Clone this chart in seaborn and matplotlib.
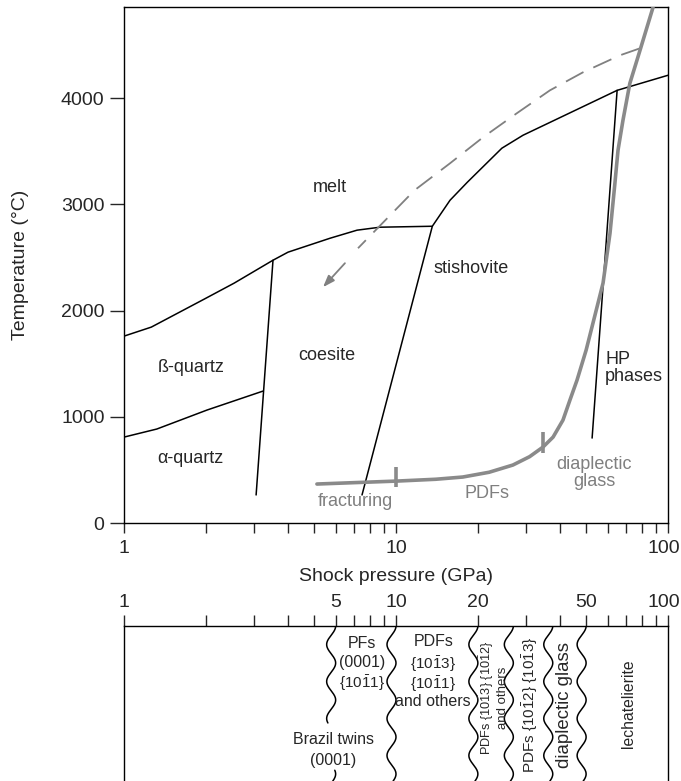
import numpy as np
import matplotlib
matplotlib.use("Agg")
import matplotlib.pyplot as plt
from matplotlib.ticker import FixedLocator, FixedFormatter, LogLocator, NullFormatter
import seaborn as sns

sns.set_style("ticks")
plt.rcParams["font.family"] = ["Liberation Sans", "DejaVu Sans"]
plt.rcParams["mathtext.fontset"] = "custom"
plt.rcParams["mathtext.rm"] = "Liberation Sans"
plt.rcParams["mathtext.default"] = "regular"

# phase boundaries, shock pressure (GPa) vs temperature (°C)
melt_p = [1, 1.26, 1.97, 2.54, 3.53, 4.01, 5.72, 7.19, 8.73, 13.6, 15.8, 18.3, 24.5, 29.3, 65.0, 100]
melt_t = [1760, 1845, 2108, 2259, 2475, 2551, 2682, 2758, 2786, 2795, 3040, 3210, 3530, 3652, 4075, 4217]

ab_p = [1, 1.32, 2.02, 3.24]          # alpha / beta quartz
ab_t = [809, 885, 1064, 1242]

qc_p = [3.53, 3.06]                   # quartz / coesite
qc_t = [2475, 264]

cs_p = [13.6, 7.5]                    # coesite / stishovite
cs_t = [2795, 264]

hp_p = [65.0, 52.6]                   # stishovite / HP phases
hp_t = [4075, 800]

# shock metamorphism path (grey)
shock_p = [5.12, 7.0, 10.1, 14.0, 17.6, 22.0, 26.9, 31.0, 34.7, 37.8, 41.1, 43.6, 46.3,
           50.0, 53.9, 57.7, 61.2, 63.8, 65.5, 68.3, 72.4, 78.9, 88.1]
shock_t = [367, 380, 395, 412, 433, 478, 546, 625, 715, 809, 969, 1158, 1346,
           1628, 1958, 2259, 2729, 3200, 3511, 3793, 4141, 4452, 4857]

mark_p = [10, 34.7]
mark_lo = [340, 660]
mark_hi = [530, 857]

# post-shock cooling path (dashed)
dash_p = [78.9, 66.6, 48.7, 36.8, 27.8, 20.9, 15.8, 11.7, 7.25]
dash_t = [4471, 4405, 4245, 4075, 3859, 3633, 3388, 3134, 2588]
arrow_from = (6.49, 2447)
arrow_to = (5.39, 2221)

field_labels = ["melt", "stishovite", "coesite", "ß-quartz", "α-quartz"]
field_p = [5.72, 18.9, 5.58, 1.76, 1.76]
field_t = [3162, 2400, 1581, 1468, 612]

grey_labels = ["fracturing", "PDFs", "diaplectic\nglass"]
grey_p = [7.07, 21.6, 53.4]
grey_t = [198, 282, 470]

# lower scale: wavy boundaries (GPa) and annotations
bound_p = [6, 10, 20, 27, 37.7, 50]
scale_ticks = [1, 6, 10, 20, 50, 100]
scale_labels = ["1", "5", "10", "20", "50", ""]

flat_text = ["PFs", "(0001)", r"$\{10\bar{1}1\}$",
             "PDFs", r"$\{10\bar{1}3\}$", r"$\{10\bar{1}1\}$", "and others",
             "Brazil twins", "(0001)"]
flat_p = [7.5, 7.5, 7.5, 13.7, 13.7, 13.7, 13.7, 5.87, 5.87]
flat_off = [17, 37, 57, 16, 38, 58, 75, 114, 134]
flat_size = [11.5, 11.5, 11, 11.5, 11, 11, 11.5, 11.5, 11.5]

rot_text = [r"PDFs $\{10\bar{1}3\}$ $\{10\bar{1}2\}$", "and others",
            r"PDFs $\{10\bar{1}2\}$ $\{10\bar{1}3\}$", "diaplectic glass", "lechatelierite"]
rot_p = [21.6, 24.7, 31.1, 41.8, 71.3]
rot_off = [72, 72, 79, 79, 78]
rot_size = [9.2, 9.5, 11, 13.4, 11.3]

W, H = 681, 781
fig = plt.figure(figsize=(W / 100, H / 100), dpi=100)
ax = fig.add_axes([124 / W, 1 - 523 / H, 544 / W, 516 / H])
ax2 = fig.add_axes([124 / W, 0, 544 / W, 155 / H])

grey = "#8a8a8a"
for px, ty in [(melt_p, melt_t), (ab_p, ab_t), (qc_p, qc_t), (cs_p, cs_t), (hp_p, hp_t)]:
    sns.lineplot(x=px, y=ty, ax=ax, color="black", lw=1.1, sort=False, estimator=None)
sns.lineplot(x=shock_p, y=shock_t, ax=ax, color=grey, lw=2.6, sort=False, estimator=None, zorder=3)
ax.vlines(mark_p, mark_lo, mark_hi, color=grey, lw=2.6, zorder=3)
sns.lineplot(x=dash_p, y=dash_t, ax=ax, color="#808080", lw=1.3, sort=False, estimator=None,
             dashes=False, linestyle=(0, (11, 6)))
ax.annotate("", xy=arrow_to, xytext=arrow_from,
            arrowprops=dict(arrowstyle="-|>,head_length=0.7,head_width=0.25",
                            color="#808080", lw=1.3, shrinkA=0, shrinkB=0))

for s, px, ty in zip(field_labels, field_p, field_t):
    ax.text(px, ty, s, fontsize=13, ha="center", va="center")
ax.text(58.7, 1459, "HP\nphases", fontsize=13, ha="left", va="center", linespacing=1.05)
for s, px, ty in zip(grey_labels, grey_p, grey_t):
    ax.text(px, ty, s, fontsize=13, ha="center", va="center", color="#7f7f7f", linespacing=1.05)

ax.set_xscale("log")
ax.set_xlim(1, 100)
ax.set_ylim(0, 4860)
ax.xaxis.set_major_locator(FixedLocator([1, 10, 100]))
ax.xaxis.set_major_formatter(FixedFormatter(["1", "10", ""]))
ax.xaxis.set_minor_locator(LogLocator(base=10, subs=np.arange(2, 10)))
ax.xaxis.set_minor_formatter(NullFormatter())
ax.set_yticks([0, 1000, 2000, 3000, 4000])
ax.tick_params(axis="x", which="both", direction="out", length=7, width=1, labelsize=14, pad=5)
ax.tick_params(axis="y", direction="out", length=10, width=1, labelsize=14, pad=4)
ax.set_xlabel("Shock pressure (GPa)", fontsize=14, labelpad=8)
ax.set_ylabel("Temperature (°C)", fontsize=14, labelpad=23)
for sp in ax.spines.values():
    sp.set_linewidth(1)
    sp.set_color("black")
# "100" sits right at the figure edge, nudge it in a little
ax.annotate("100", xy=(1, 0), xycoords="axes fraction", xytext=(-3, -12),
            textcoords="offset points", ha="center", va="top", fontsize=14)

# lower scale bar
ax2.set_xscale("log")
ax2.set_xlim(1, 100)
ax2.set_ylim(155, 0)
ax2.xaxis.tick_top()
ax2.xaxis.set_major_locator(FixedLocator(scale_ticks))
ax2.xaxis.set_major_formatter(FixedFormatter(scale_labels))
ax2.xaxis.set_minor_locator(LogLocator(base=10, subs=np.arange(2, 10)))
ax2.xaxis.set_minor_formatter(NullFormatter())
ax2.tick_params(axis="x", which="both", direction="out", length=8, width=1, labelsize=14, pad=3)
ax2.set_yticks([])
ax2.spines["bottom"].set_visible(False)
for sp in ["top", "left", "right"]:
    ax2.spines[sp].set_linewidth(1)
    ax2.spines[sp].set_color("black")
ax2.annotate("100", xy=(1, 1), xycoords="axes fraction", xytext=(-3, 11),
             textcoords="offset points", ha="center", va="bottom", fontsize=14)

px_per_dec = 544 / 2
yy = np.linspace(0, 160, 600)
wave = -4.5 * (1 - np.cos(2 * np.pi * yy / 37))
for i, p0 in enumerate(bound_p):
    xs = 10 ** (np.log10(p0) + wave / px_per_dec)
    ys = yy.copy()
    if i == 0:
        ys = np.where((yy > 97) & (yy < 144), np.nan, yy)
    ax2.plot(xs, ys, color="black", lw=1.1)

for s, px, off, fs in zip(flat_text, flat_p, flat_off, flat_size):
    ax2.text(px, off, s, fontsize=fs, ha="center", va="center")
for s, px, off, fs in zip(rot_text, rot_p, rot_off, rot_size):
    ax2.text(px, off, s, fontsize=fs, ha="center", va="center", rotation=90)

fig.savefig("out.png", dpi=100)
